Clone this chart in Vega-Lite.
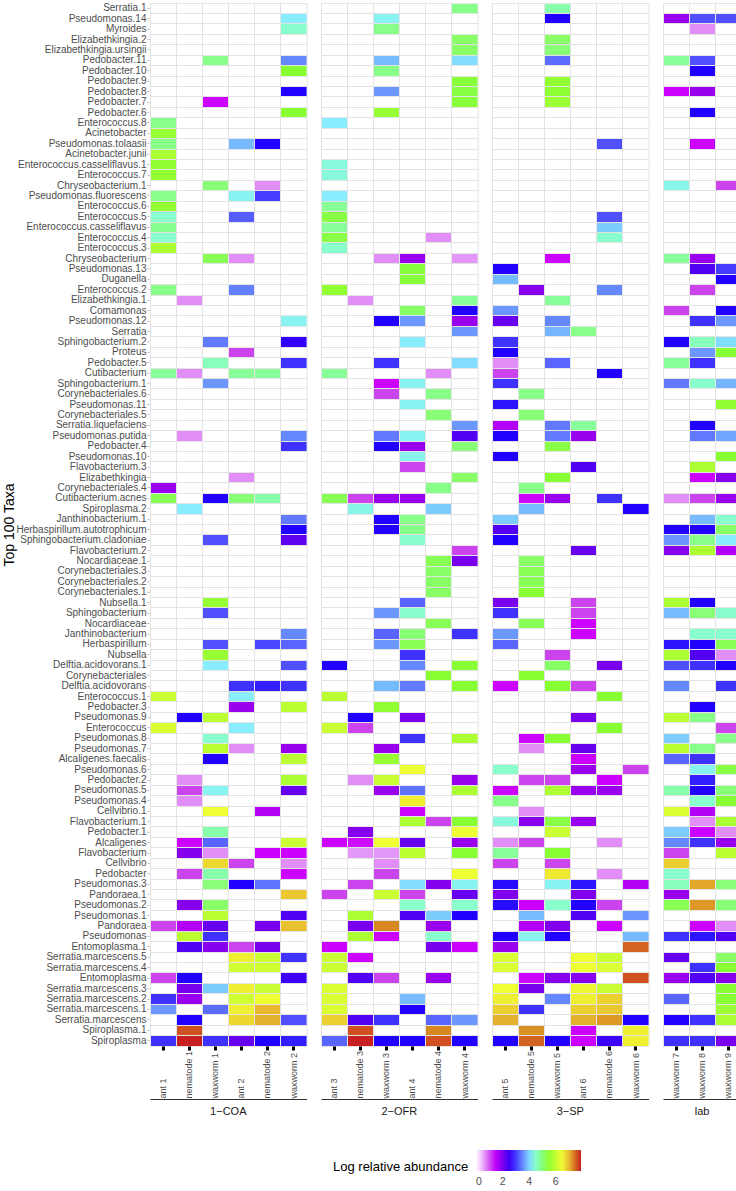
{
"$schema": "https://vega.github.io/schema/vega-lite/v6.json",
"padding": {"left": 2, "top": 2, "right": 0, "bottom": 0},
"background": "white",
"datasets": {
"samples": [
{"s":"ant 1","g":"1−COA"},{"s":"nematode 1","g":"1−COA"},{"s":"waxworm 1","g":"1−COA"},{"s":"ant 2","g":"1−COA"},{"s":"nematode 2","g":"1−COA"},{"s":"waxworm 2","g":"1−COA"},
{"s":"ant 3","g":"2−OFR"},{"s":"nematode 3","g":"2−OFR"},{"s":"waxworm 3","g":"2−OFR"},{"s":"ant 4","g":"2−OFR"},{"s":"nematode 4","g":"2−OFR"},{"s":"waxworm 4","g":"2−OFR"},
{"s":"ant 5","g":"3−SP"},{"s":"nematode 5","g":"3−SP"},{"s":"waxworm 5","g":"3−SP"},{"s":"ant 6","g":"3−SP"},{"s":"nematode 6","g":"3−SP"},{"s":"waxworm 6","g":"3−SP"},
{"s":"waxworm 7","g":"lab"},{"s":"waxworm 8","g":"lab"},{"s":"waxworm 9","g":"lab"}
]
},
"data": {"values": [
{"t":"Serratia.1","s":"waxworm 4","v":4.9},{"t":"Serratia.1","s":"waxworm 5","v":4.7},
{"t":"Pseudomonas.14","s":"waxworm 2","v":4.15},{"t":"Pseudomonas.14","s":"waxworm 3","v":4.25},{"t":"Pseudomonas.14","s":"waxworm 5","v":2.7},{"t":"Pseudomonas.14","s":"waxworm 7","v":1.8},{"t":"Pseudomonas.14","s":"waxworm 8","v":3.1},{"t":"Pseudomonas.14","s":"waxworm 9","v":3.1},
{"t":"Myroides","s":"waxworm 2","v":4.5},{"t":"Myroides","s":"waxworm 3","v":4.9},{"t":"Myroides","s":"waxworm 8","v":0.7},
{"t":"Elizabethkingia.2","s":"waxworm 4","v":5.1},{"t":"Elizabethkingia.2","s":"waxworm 5","v":5.1},
{"t":"Elizabethkingia.ursingii","s":"waxworm 4","v":5.1},{"t":"Elizabethkingia.ursingii","s":"waxworm 5","v":5.0},
{"t":"Pedobacter.11","s":"waxworm 1","v":4.9},{"t":"Pedobacter.11","s":"waxworm 2","v":3.5},{"t":"Pedobacter.11","s":"waxworm 3","v":3.85},{"t":"Pedobacter.11","s":"waxworm 4","v":4.05},{"t":"Pedobacter.11","s":"waxworm 5","v":3.3},{"t":"Pedobacter.11","s":"waxworm 7","v":4.8},{"t":"Pedobacter.11","s":"waxworm 8","v":3.1},
{"t":"Pedobacter.10","s":"waxworm 2","v":5.4},{"t":"Pedobacter.10","s":"waxworm 3","v":4.9},{"t":"Pedobacter.10","s":"waxworm 8","v":2.7},
{"t":"Pedobacter.9","s":"waxworm 4","v":5.35},{"t":"Pedobacter.9","s":"waxworm 5","v":5.5},
{"t":"Pedobacter.8","s":"waxworm 2","v":2.7},{"t":"Pedobacter.8","s":"waxworm 3","v":3.6},{"t":"Pedobacter.8","s":"waxworm 4","v":5.3},{"t":"Pedobacter.8","s":"waxworm 5","v":5.45},{"t":"Pedobacter.8","s":"waxworm 7","v":1.4},{"t":"Pedobacter.8","s":"waxworm 8","v":1.8},
{"t":"Pedobacter.7","s":"waxworm 1","v":1.4},{"t":"Pedobacter.7","s":"waxworm 4","v":5.35},{"t":"Pedobacter.7","s":"waxworm 5","v":5.6},
{"t":"Pedobacter.6","s":"waxworm 2","v":5.4},{"t":"Pedobacter.6","s":"waxworm 3","v":5.55},{"t":"Pedobacter.6","s":"waxworm 8","v":2.7},
{"t":"Enterococcus.8","s":"ant 1","v":4.9},{"t":"Enterococcus.8","s":"ant 3","v":4.15},
{"t":"Acinetobacter","s":"ant 1","v":5.55},
{"t":"Pseudomonas.tolaasii","s":"ant 1","v":4.9},{"t":"Pseudomonas.tolaasii","s":"ant 2","v":3.85},{"t":"Pseudomonas.tolaasii","s":"nematode 2","v":2.7},{"t":"Pseudomonas.tolaasii","s":"nematode 6","v":3.1},{"t":"Pseudomonas.tolaasii","s":"waxworm 8","v":1.4},
{"t":"Acinetobacter.junii","s":"ant 1","v":5.75},
{"t":"Enterococcus.casseliflavus.1","s":"ant 1","v":5.5},{"t":"Enterococcus.casseliflavus.1","s":"ant 3","v":4.4},
{"t":"Enterococcus.7","s":"ant 1","v":5.5},{"t":"Enterococcus.7","s":"ant 3","v":4.4},
{"t":"Chryseobacterium.1","s":"waxworm 1","v":5.0},{"t":"Chryseobacterium.1","s":"nematode 2","v":0.7},{"t":"Chryseobacterium.1","s":"waxworm 7","v":4.3},{"t":"Chryseobacterium.1","s":"waxworm 9","v":1.1},
{"t":"Pseudomonas.fluorescens","s":"ant 1","v":4.9},{"t":"Pseudomonas.fluorescens","s":"ant 2","v":4.25},{"t":"Pseudomonas.fluorescens","s":"nematode 2","v":3.0},{"t":"Pseudomonas.fluorescens","s":"ant 3","v":4.15},
{"t":"Enterococcus.6","s":"ant 1","v":5.5},{"t":"Enterococcus.6","s":"ant 3","v":4.8},
{"t":"Enterococcus.5","s":"ant 1","v":4.5},{"t":"Enterococcus.5","s":"ant 2","v":3.2},{"t":"Enterococcus.5","s":"ant 3","v":5.3},{"t":"Enterococcus.5","s":"nematode 6","v":3.1},
{"t":"Enterococcus.casseliflavus","s":"ant 1","v":4.85},{"t":"Enterococcus.casseliflavus","s":"ant 3","v":4.8},{"t":"Enterococcus.casseliflavus","s":"nematode 6","v":3.95},
{"t":"Enterococcus.4","s":"ant 1","v":4.5},{"t":"Enterococcus.4","s":"ant 3","v":5.3},{"t":"Enterococcus.4","s":"nematode 4","v":0.7},{"t":"Enterococcus.4","s":"nematode 6","v":4.5},
{"t":"Enterococcus.3","s":"ant 1","v":5.75},{"t":"Enterococcus.3","s":"ant 3","v":4.5},
{"t":"Chryseobacterium","s":"waxworm 1","v":5.2},{"t":"Chryseobacterium","s":"ant 2","v":0.7},{"t":"Chryseobacterium","s":"waxworm 3","v":0.7},{"t":"Chryseobacterium","s":"ant 4","v":1.8},{"t":"Chryseobacterium","s":"waxworm 4","v":0.65},{"t":"Chryseobacterium","s":"waxworm 5","v":1.4},{"t":"Chryseobacterium","s":"waxworm 7","v":4.8},{"t":"Chryseobacterium","s":"waxworm 8","v":1.8},
{"t":"Pseudomonas.13","s":"ant 4","v":5.35},{"t":"Pseudomonas.13","s":"ant 5","v":2.7},{"t":"Pseudomonas.13","s":"waxworm 8","v":2.35},{"t":"Pseudomonas.13","s":"waxworm 9","v":3.0},
{"t":"Duganella","s":"ant 4","v":5.35},{"t":"Duganella","s":"ant 5","v":3.85},{"t":"Duganella","s":"waxworm 9","v":2.7},
{"t":"Enterococcus.2","s":"ant 1","v":4.9},{"t":"Enterococcus.2","s":"ant 2","v":3.45},{"t":"Enterococcus.2","s":"ant 3","v":5.5},{"t":"Enterococcus.2","s":"nematode 5","v":1.95},{"t":"Enterococcus.2","s":"nematode 6","v":3.5},{"t":"Enterococcus.2","s":"waxworm 8","v":1.1},
{"t":"Elizabethkingia.1","s":"nematode 1","v":0.7},{"t":"Elizabethkingia.1","s":"nematode 3","v":0.7},{"t":"Elizabethkingia.1","s":"waxworm 4","v":4.8},{"t":"Elizabethkingia.1","s":"waxworm 5","v":4.8},
{"t":"Comamonas","s":"ant 4","v":5.1},{"t":"Comamonas","s":"waxworm 4","v":2.7},{"t":"Comamonas","s":"ant 5","v":3.6},{"t":"Comamonas","s":"waxworm 7","v":1.1},{"t":"Comamonas","s":"waxworm 9","v":2.7},
{"t":"Pseudomonas.12","s":"waxworm 2","v":4.25},{"t":"Pseudomonas.12","s":"waxworm 3","v":2.7},{"t":"Pseudomonas.12","s":"ant 4","v":3.6},{"t":"Pseudomonas.12","s":"waxworm 4","v":1.8},{"t":"Pseudomonas.12","s":"ant 5","v":2.2},{"t":"Pseudomonas.12","s":"waxworm 5","v":3.5},{"t":"Pseudomonas.12","s":"waxworm 8","v":2.95},{"t":"Pseudomonas.12","s":"waxworm 9","v":3.6},
{"t":"Serratia","s":"waxworm 4","v":3.6},{"t":"Serratia","s":"waxworm 5","v":3.8},{"t":"Serratia","s":"ant 6","v":4.9},
{"t":"Sphingobacterium.2","s":"waxworm 1","v":3.4},{"t":"Sphingobacterium.2","s":"waxworm 2","v":2.6},{"t":"Sphingobacterium.2","s":"ant 4","v":4.15},{"t":"Sphingobacterium.2","s":"ant 5","v":2.95},{"t":"Sphingobacterium.2","s":"waxworm 7","v":2.7},{"t":"Sphingobacterium.2","s":"waxworm 8","v":4.6},{"t":"Sphingobacterium.2","s":"waxworm 9","v":4.05},
{"t":"Proteus","s":"ant 2","v":1.1},{"t":"Proteus","s":"ant 5","v":2.7},{"t":"Proteus","s":"waxworm 8","v":3.6},{"t":"Proteus","s":"waxworm 9","v":5.4},
{"t":"Pedobacter.5","s":"waxworm 1","v":4.6},{"t":"Pedobacter.5","s":"waxworm 2","v":2.95},{"t":"Pedobacter.5","s":"waxworm 3","v":2.95},{"t":"Pedobacter.5","s":"waxworm 4","v":4.05},{"t":"Pedobacter.5","s":"ant 5","v":0.7},{"t":"Pedobacter.5","s":"waxworm 5","v":3.25},{"t":"Pedobacter.5","s":"waxworm 7","v":4.8},{"t":"Pedobacter.5","s":"waxworm 8","v":2.95},
{"t":"Cutibacterium","s":"ant 1","v":4.8},{"t":"Cutibacterium","s":"nematode 1","v":0.7},{"t":"Cutibacterium","s":"ant 2","v":4.8},{"t":"Cutibacterium","s":"nematode 2","v":4.8},{"t":"Cutibacterium","s":"ant 3","v":4.8},{"t":"Cutibacterium","s":"nematode 4","v":0.7},{"t":"Cutibacterium","s":"ant 5","v":1.1},{"t":"Cutibacterium","s":"nematode 6","v":2.7},
{"t":"Sphingobacterium.1","s":"waxworm 1","v":3.6},{"t":"Sphingobacterium.1","s":"waxworm 3","v":1.4},{"t":"Sphingobacterium.1","s":"ant 4","v":4.25},{"t":"Sphingobacterium.1","s":"ant 5","v":2.95},{"t":"Sphingobacterium.1","s":"waxworm 7","v":3.4},{"t":"Sphingobacterium.1","s":"waxworm 8","v":4.5},{"t":"Sphingobacterium.1","s":"waxworm 9","v":3.8},
{"t":"Corynebacteriales.6","s":"waxworm 3","v":1.1},{"t":"Corynebacteriales.6","s":"nematode 4","v":4.9},{"t":"Corynebacteriales.6","s":"nematode 5","v":4.9},
{"t":"Pseudomonas.11","s":"ant 4","v":4.25},{"t":"Pseudomonas.11","s":"ant 5","v":2.8},{"t":"Pseudomonas.11","s":"waxworm 9","v":5.5},
{"t":"Corynebacteriales.5","s":"nematode 4","v":5.0},{"t":"Corynebacteriales.5","s":"nematode 5","v":5.0},
{"t":"Serratia.liquefaciens","s":"waxworm 4","v":3.6},{"t":"Serratia.liquefaciens","s":"ant 5","v":1.6},{"t":"Serratia.liquefaciens","s":"waxworm 5","v":3.4},{"t":"Serratia.liquefaciens","s":"ant 6","v":4.8},{"t":"Serratia.liquefaciens","s":"waxworm 8","v":2.7},
{"t":"Pseudomonas.putida","s":"nematode 1","v":0.7},{"t":"Pseudomonas.putida","s":"waxworm 2","v":3.5},{"t":"Pseudomonas.putida","s":"waxworm 3","v":3.4},{"t":"Pseudomonas.putida","s":"ant 4","v":4.25},{"t":"Pseudomonas.putida","s":"waxworm 4","v":2.35},{"t":"Pseudomonas.putida","s":"ant 5","v":2.7},{"t":"Pseudomonas.putida","s":"waxworm 5","v":3.4},{"t":"Pseudomonas.putida","s":"ant 6","v":1.8},{"t":"Pseudomonas.putida","s":"waxworm 8","v":3.4},{"t":"Pseudomonas.putida","s":"waxworm 9","v":3.7},
{"t":"Pedobacter.4","s":"waxworm 2","v":2.95},{"t":"Pedobacter.4","s":"waxworm 3","v":2.7},{"t":"Pedobacter.4","s":"ant 4","v":1.8},{"t":"Pedobacter.4","s":"waxworm 4","v":5.0},{"t":"Pedobacter.4","s":"waxworm 5","v":5.3},
{"t":"Pseudomonas.10","s":"ant 4","v":4.25},{"t":"Pseudomonas.10","s":"ant 5","v":2.7},{"t":"Pseudomonas.10","s":"waxworm 9","v":5.4},
{"t":"Flavobacterium.3","s":"ant 4","v":1.1},{"t":"Flavobacterium.3","s":"ant 6","v":2.35},{"t":"Flavobacterium.3","s":"waxworm 8","v":5.75},
{"t":"Elizabethkingia","s":"ant 2","v":0.7},{"t":"Elizabethkingia","s":"waxworm 4","v":5.1},{"t":"Elizabethkingia","s":"waxworm 5","v":5.4},{"t":"Elizabethkingia","s":"waxworm 8","v":1.4},{"t":"Elizabethkingia","s":"waxworm 9","v":1.95},
{"t":"Corynebacteriales.4","s":"ant 1","v":1.8},{"t":"Corynebacteriales.4","s":"nematode 4","v":4.9},{"t":"Corynebacteriales.4","s":"nematode 5","v":4.9},
{"t":"Cutibacterium.acnes","s":"ant 1","v":5.2},{"t":"Cutibacterium.acnes","s":"waxworm 1","v":2.7},{"t":"Cutibacterium.acnes","s":"ant 2","v":5.0},{"t":"Cutibacterium.acnes","s":"nematode 2","v":4.7},{"t":"Cutibacterium.acnes","s":"ant 3","v":5.2},{"t":"Cutibacterium.acnes","s":"nematode 3","v":1.1},{"t":"Cutibacterium.acnes","s":"waxworm 3","v":1.8},{"t":"Cutibacterium.acnes","s":"ant 4","v":1.8},{"t":"Cutibacterium.acnes","s":"nematode 5","v":1.4},{"t":"Cutibacterium.acnes","s":"waxworm 5","v":1.8},{"t":"Cutibacterium.acnes","s":"nematode 6","v":2.95},{"t":"Cutibacterium.acnes","s":"waxworm 7","v":0.7},{"t":"Cutibacterium.acnes","s":"waxworm 8","v":1.1},{"t":"Cutibacterium.acnes","s":"waxworm 9","v":1.8},
{"t":"Spiroplasma.2","s":"nematode 1","v":4.15},{"t":"Spiroplasma.2","s":"nematode 3","v":4.3},{"t":"Spiroplasma.2","s":"nematode 4","v":3.95},{"t":"Spiroplasma.2","s":"nematode 5","v":3.85},{"t":"Spiroplasma.2","s":"waxworm 6","v":2.7},
{"t":"Janthinobacterium.1","s":"waxworm 2","v":3.4},{"t":"Janthinobacterium.1","s":"waxworm 3","v":2.7},{"t":"Janthinobacterium.1","s":"ant 4","v":4.9},{"t":"Janthinobacterium.1","s":"ant 5","v":3.95},{"t":"Janthinobacterium.1","s":"waxworm 8","v":3.85},{"t":"Janthinobacterium.1","s":"waxworm 9","v":4.5},
{"t":"Herbaspirillum.autotrophicum","s":"waxworm 2","v":2.7},{"t":"Herbaspirillum.autotrophicum","s":"waxworm 3","v":2.7},{"t":"Herbaspirillum.autotrophicum","s":"ant 4","v":4.9},{"t":"Herbaspirillum.autotrophicum","s":"ant 5","v":2.35},{"t":"Herbaspirillum.autotrophicum","s":"waxworm 7","v":2.7},{"t":"Herbaspirillum.autotrophicum","s":"waxworm 8","v":2.7},{"t":"Herbaspirillum.autotrophicum","s":"waxworm 9","v":5.1},
{"t":"Sphingobacterium.cladoniae","s":"waxworm 1","v":3.1},{"t":"Sphingobacterium.cladoniae","s":"waxworm 2","v":2.25},{"t":"Sphingobacterium.cladoniae","s":"ant 4","v":4.5},{"t":"Sphingobacterium.cladoniae","s":"ant 5","v":2.7},{"t":"Sphingobacterium.cladoniae","s":"waxworm 7","v":3.6},{"t":"Sphingobacterium.cladoniae","s":"waxworm 8","v":4.9},{"t":"Sphingobacterium.cladoniae","s":"waxworm 9","v":4.15},
{"t":"Flavobacterium.2","s":"waxworm 4","v":1.1},{"t":"Flavobacterium.2","s":"ant 6","v":2.2},{"t":"Flavobacterium.2","s":"waxworm 7","v":1.95},{"t":"Flavobacterium.2","s":"waxworm 8","v":5.75},{"t":"Flavobacterium.2","s":"waxworm 9","v":1.6},
{"t":"Nocardiaceae.1","s":"nematode 4","v":5.2},{"t":"Nocardiaceae.1","s":"waxworm 4","v":2.05},{"t":"Nocardiaceae.1","s":"nematode 5","v":5.1},
{"t":"Corynebacteriales.3","s":"nematode 4","v":5.1},{"t":"Corynebacteriales.3","s":"nematode 5","v":5.2},
{"t":"Corynebacteriales.2","s":"nematode 4","v":5.1},{"t":"Corynebacteriales.2","s":"nematode 5","v":5.2},
{"t":"Corynebacteriales.1","s":"nematode 4","v":5.1},{"t":"Corynebacteriales.1","s":"nematode 5","v":5.4},
{"t":"Nubsella.1","s":"waxworm 1","v":5.55},{"t":"Nubsella.1","s":"ant 4","v":3.25},{"t":"Nubsella.1","s":"ant 5","v":2.05},{"t":"Nubsella.1","s":"ant 6","v":1.1},{"t":"Nubsella.1","s":"waxworm 7","v":5.75},{"t":"Nubsella.1","s":"waxworm 8","v":2.7},
{"t":"Sphingobacterium","s":"waxworm 1","v":3.1},{"t":"Sphingobacterium","s":"waxworm 3","v":3.6},{"t":"Sphingobacterium","s":"ant 4","v":4.5},{"t":"Sphingobacterium","s":"ant 5","v":2.95},{"t":"Sphingobacterium","s":"ant 6","v":1.1},{"t":"Sphingobacterium","s":"waxworm 7","v":3.85},{"t":"Sphingobacterium","s":"waxworm 8","v":5.0},{"t":"Sphingobacterium","s":"waxworm 9","v":4.5},
{"t":"Nocardiaceae","s":"nematode 4","v":5.2},{"t":"Nocardiaceae","s":"nematode 5","v":5.2},{"t":"Nocardiaceae","s":"ant 6","v":1.4},
{"t":"Janthinobacterium","s":"waxworm 2","v":3.5},{"t":"Janthinobacterium","s":"waxworm 3","v":3.25},{"t":"Janthinobacterium","s":"ant 4","v":5.0},{"t":"Janthinobacterium","s":"waxworm 4","v":2.95},{"t":"Janthinobacterium","s":"ant 5","v":3.6},{"t":"Janthinobacterium","s":"ant 6","v":1.4},{"t":"Janthinobacterium","s":"waxworm 8","v":4.5},{"t":"Janthinobacterium","s":"waxworm 9","v":4.5},
{"t":"Herbaspirillum","s":"waxworm 1","v":3.1},{"t":"Herbaspirillum","s":"nematode 2","v":3.05},{"t":"Herbaspirillum","s":"waxworm 2","v":3.25},{"t":"Herbaspirillum","s":"waxworm 3","v":3.6},{"t":"Herbaspirillum","s":"ant 4","v":5.2},{"t":"Herbaspirillum","s":"ant 5","v":3.25},{"t":"Herbaspirillum","s":"waxworm 7","v":2.8},{"t":"Herbaspirillum","s":"waxworm 8","v":2.7},{"t":"Herbaspirillum","s":"waxworm 9","v":5.2},
{"t":"Nubsella","s":"waxworm 1","v":5.55},{"t":"Nubsella","s":"ant 4","v":2.95},{"t":"Nubsella","s":"waxworm 5","v":1.1},{"t":"Nubsella","s":"waxworm 7","v":5.75},{"t":"Nubsella","s":"waxworm 8","v":2.35},{"t":"Nubsella","s":"waxworm 9","v":0.7},
{"t":"Delftia.acidovorans.1","s":"waxworm 1","v":4.15},{"t":"Delftia.acidovorans.1","s":"waxworm 2","v":3.1},{"t":"Delftia.acidovorans.1","s":"ant 3","v":2.7},{"t":"Delftia.acidovorans.1","s":"ant 4","v":3.5},{"t":"Delftia.acidovorans.1","s":"waxworm 4","v":5.4},{"t":"Delftia.acidovorans.1","s":"waxworm 5","v":5.1},{"t":"Delftia.acidovorans.1","s":"nematode 6","v":2.05},{"t":"Delftia.acidovorans.1","s":"waxworm 7","v":3.1},{"t":"Delftia.acidovorans.1","s":"waxworm 8","v":2.95},{"t":"Delftia.acidovorans.1","s":"waxworm 9","v":2.7},
{"t":"Corynebacteriales","s":"nematode 4","v":5.4},{"t":"Corynebacteriales","s":"nematode 5","v":5.4},
{"t":"Delftia.acidovorans","s":"ant 2","v":2.95},{"t":"Delftia.acidovorans","s":"nematode 2","v":2.85},{"t":"Delftia.acidovorans","s":"waxworm 2","v":2.95},{"t":"Delftia.acidovorans","s":"waxworm 3","v":3.85},{"t":"Delftia.acidovorans","s":"ant 4","v":3.4},{"t":"Delftia.acidovorans","s":"waxworm 4","v":5.4},{"t":"Delftia.acidovorans","s":"ant 5","v":1.4},{"t":"Delftia.acidovorans","s":"waxworm 5","v":5.4},{"t":"Delftia.acidovorans","s":"ant 6","v":1.1},{"t":"Delftia.acidovorans","s":"waxworm 7","v":3.5},{"t":"Delftia.acidovorans","s":"waxworm 9","v":2.95},
{"t":"Enterococcus.1","s":"ant 1","v":6.05},{"t":"Enterococcus.1","s":"ant 2","v":4.15},{"t":"Enterococcus.1","s":"ant 3","v":5.9},{"t":"Enterococcus.1","s":"nematode 6","v":5.4},
{"t":"Pedobacter.3","s":"ant 2","v":1.8},{"t":"Pedobacter.3","s":"waxworm 2","v":5.9},{"t":"Pedobacter.3","s":"waxworm 3","v":5.5},{"t":"Pedobacter.3","s":"waxworm 8","v":2.7},
{"t":"Pseudomonas.9","s":"nematode 1","v":2.7},{"t":"Pseudomonas.9","s":"waxworm 1","v":5.9},{"t":"Pseudomonas.9","s":"nematode 3","v":2.7},{"t":"Pseudomonas.9","s":"ant 4","v":2.05},{"t":"Pseudomonas.9","s":"ant 6","v":2.05},{"t":"Pseudomonas.9","s":"waxworm 7","v":5.9},{"t":"Pseudomonas.9","s":"waxworm 8","v":4.9},
{"t":"Enterococcus","s":"ant 1","v":6.2},{"t":"Enterococcus","s":"ant 2","v":4.15},{"t":"Enterococcus","s":"ant 3","v":6.05},{"t":"Enterococcus","s":"nematode 3","v":1.1},{"t":"Enterococcus","s":"nematode 6","v":5.4},{"t":"Enterococcus","s":"waxworm 9","v":1.1},
{"t":"Pseudomonas.8","s":"waxworm 1","v":4.5},{"t":"Pseudomonas.8","s":"ant 4","v":2.95},{"t":"Pseudomonas.8","s":"waxworm 4","v":5.75},{"t":"Pseudomonas.8","s":"nematode 5","v":1.4},{"t":"Pseudomonas.8","s":"waxworm 5","v":5.4},{"t":"Pseudomonas.8","s":"waxworm 7","v":3.95},{"t":"Pseudomonas.8","s":"waxworm 9","v":4.9},
{"t":"Pseudomonas.7","s":"waxworm 1","v":5.9},{"t":"Pseudomonas.7","s":"ant 2","v":0.7},{"t":"Pseudomonas.7","s":"waxworm 2","v":1.8},{"t":"Pseudomonas.7","s":"waxworm 3","v":1.8},{"t":"Pseudomonas.7","s":"nematode 5","v":0.7},{"t":"Pseudomonas.7","s":"ant 6","v":2.2},{"t":"Pseudomonas.7","s":"waxworm 7","v":5.9},{"t":"Pseudomonas.7","s":"waxworm 8","v":4.9},
{"t":"Alcaligenes.faecalis","s":"waxworm 1","v":2.7},{"t":"Alcaligenes.faecalis","s":"waxworm 2","v":5.9},{"t":"Alcaligenes.faecalis","s":"waxworm 3","v":5.55},{"t":"Alcaligenes.faecalis","s":"ant 6","v":1.4},{"t":"Alcaligenes.faecalis","s":"waxworm 7","v":3.25},{"t":"Alcaligenes.faecalis","s":"waxworm 8","v":2.95},
{"t":"Pseudomonas.6","s":"ant 4","v":6.4},{"t":"Pseudomonas.6","s":"ant 5","v":4.5},{"t":"Pseudomonas.6","s":"ant 6","v":1.8},{"t":"Pseudomonas.6","s":"waxworm 6","v":1.1},{"t":"Pseudomonas.6","s":"waxworm 8","v":4.25},{"t":"Pseudomonas.6","s":"waxworm 9","v":5.3},
{"t":"Pedobacter.2","s":"nematode 1","v":0.7},{"t":"Pedobacter.2","s":"waxworm 2","v":5.75},{"t":"Pedobacter.2","s":"nematode 3","v":0.7},{"t":"Pedobacter.2","s":"waxworm 3","v":6.05},{"t":"Pedobacter.2","s":"waxworm 4","v":1.8},{"t":"Pedobacter.2","s":"nematode 5","v":1.1},{"t":"Pedobacter.2","s":"waxworm 5","v":1.1},{"t":"Pedobacter.2","s":"nematode 6","v":1.4},{"t":"Pedobacter.2","s":"waxworm 8","v":2.85},
{"t":"Pseudomonas.5","s":"nematode 1","v":1.1},{"t":"Pseudomonas.5","s":"waxworm 1","v":4.25},{"t":"Pseudomonas.5","s":"waxworm 2","v":2.2},{"t":"Pseudomonas.5","s":"waxworm 3","v":1.8},{"t":"Pseudomonas.5","s":"ant 4","v":3.35},{"t":"Pseudomonas.5","s":"waxworm 4","v":5.75},{"t":"Pseudomonas.5","s":"ant 5","v":1.4},{"t":"Pseudomonas.5","s":"waxworm 5","v":5.75},{"t":"Pseudomonas.5","s":"ant 6","v":1.8},{"t":"Pseudomonas.5","s":"nematode 6","v":1.8},{"t":"Pseudomonas.5","s":"waxworm 7","v":4.7},{"t":"Pseudomonas.5","s":"waxworm 8","v":2.7},{"t":"Pseudomonas.5","s":"waxworm 9","v":5.0},
{"t":"Pseudomonas.4","s":"nematode 1","v":0.7},{"t":"Pseudomonas.4","s":"ant 4","v":6.6},{"t":"Pseudomonas.4","s":"ant 5","v":4.9},{"t":"Pseudomonas.4","s":"waxworm 8","v":4.5},{"t":"Pseudomonas.4","s":"waxworm 9","v":5.4},
{"t":"Cellvibrio.1","s":"waxworm 1","v":6.4},{"t":"Cellvibrio.1","s":"nematode 2","v":1.6},{"t":"Cellvibrio.1","s":"ant 4","v":1.4},{"t":"Cellvibrio.1","s":"nematode 5","v":0.7},{"t":"Cellvibrio.1","s":"waxworm 7","v":6.2},{"t":"Cellvibrio.1","s":"waxworm 8","v":1.6},
{"t":"Flavobacterium.1","s":"ant 4","v":5.75},{"t":"Flavobacterium.1","s":"nematode 4","v":1.1},{"t":"Flavobacterium.1","s":"waxworm 4","v":5.4},{"t":"Flavobacterium.1","s":"ant 5","v":4.4},{"t":"Flavobacterium.1","s":"nematode 5","v":1.95},{"t":"Flavobacterium.1","s":"waxworm 5","v":5.3},{"t":"Flavobacterium.1","s":"ant 6","v":1.8},{"t":"Flavobacterium.1","s":"waxworm 8","v":0.7},{"t":"Flavobacterium.1","s":"waxworm 9","v":5.75},
{"t":"Pedobacter.1","s":"waxworm 1","v":4.7},{"t":"Pedobacter.1","s":"nematode 3","v":1.95},{"t":"Pedobacter.1","s":"waxworm 4","v":6.4},{"t":"Pedobacter.1","s":"waxworm 5","v":6.05},{"t":"Pedobacter.1","s":"waxworm 7","v":3.95},{"t":"Pedobacter.1","s":"waxworm 8","v":1.4},{"t":"Pedobacter.1","s":"waxworm 9","v":0.7},
{"t":"Alcaligenes","s":"nematode 1","v":1.4},{"t":"Alcaligenes","s":"waxworm 1","v":3.25},{"t":"Alcaligenes","s":"waxworm 2","v":6.05},{"t":"Alcaligenes","s":"ant 3","v":1.4},{"t":"Alcaligenes","s":"nematode 3","v":1.35},{"t":"Alcaligenes","s":"waxworm 3","v":6.4},{"t":"Alcaligenes","s":"ant 4","v":2.2},{"t":"Alcaligenes","s":"waxworm 4","v":1.8},{"t":"Alcaligenes","s":"ant 5","v":0.7},{"t":"Alcaligenes","s":"nematode 5","v":1.1},{"t":"Alcaligenes","s":"nematode 6","v":0.7},{"t":"Alcaligenes","s":"waxworm 7","v":3.5},{"t":"Alcaligenes","s":"waxworm 8","v":2.95},{"t":"Alcaligenes","s":"waxworm 9","v":1.8},
{"t":"Flavobacterium","s":"nematode 1","v":1.95},{"t":"Flavobacterium","s":"waxworm 1","v":0.7},{"t":"Flavobacterium","s":"nematode 2","v":1.4},{"t":"Flavobacterium","s":"waxworm 2","v":1.4},{"t":"Flavobacterium","s":"nematode 3","v":0.65},{"t":"Flavobacterium","s":"waxworm 3","v":0.65},{"t":"Flavobacterium","s":"ant 4","v":5.9},{"t":"Flavobacterium","s":"waxworm 4","v":5.4},{"t":"Flavobacterium","s":"ant 5","v":4.8},{"t":"Flavobacterium","s":"waxworm 5","v":5.4},{"t":"Flavobacterium","s":"waxworm 7","v":1.1},{"t":"Flavobacterium","s":"waxworm 9","v":5.9},
{"t":"Cellvibrio","s":"waxworm 1","v":6.8},{"t":"Cellvibrio","s":"ant 2","v":1.1},{"t":"Cellvibrio","s":"waxworm 2","v":0.7},{"t":"Cellvibrio","s":"waxworm 3","v":0.7},{"t":"Cellvibrio","s":"ant 5","v":1.1},{"t":"Cellvibrio","s":"waxworm 5","v":1.1},{"t":"Cellvibrio","s":"waxworm 7","v":6.85},
{"t":"Pedobacter","s":"nematode 1","v":1.1},{"t":"Pedobacter","s":"waxworm 1","v":4.7},{"t":"Pedobacter","s":"waxworm 2","v":1.4},{"t":"Pedobacter","s":"waxworm 3","v":1.1},{"t":"Pedobacter","s":"waxworm 4","v":6.4},{"t":"Pedobacter","s":"waxworm 5","v":6.7},{"t":"Pedobacter","s":"nematode 6","v":0.7},{"t":"Pedobacter","s":"waxworm 7","v":4.5},
{"t":"Pseudomonas.3","s":"waxworm 1","v":5.0},{"t":"Pseudomonas.3","s":"ant 2","v":2.7},{"t":"Pseudomonas.3","s":"nematode 2","v":3.35},{"t":"Pseudomonas.3","s":"nematode 3","v":1.1},{"t":"Pseudomonas.3","s":"ant 4","v":4.05},{"t":"Pseudomonas.3","s":"nematode 4","v":1.95},{"t":"Pseudomonas.3","s":"waxworm 4","v":4.25},{"t":"Pseudomonas.3","s":"ant 5","v":2.75},{"t":"Pseudomonas.3","s":"waxworm 5","v":4.25},{"t":"Pseudomonas.3","s":"ant 6","v":2.8},{"t":"Pseudomonas.3","s":"waxworm 6","v":1.6},{"t":"Pseudomonas.3","s":"waxworm 7","v":4.6},{"t":"Pseudomonas.3","s":"waxworm 8","v":7.1},{"t":"Pseudomonas.3","s":"waxworm 9","v":5.0},
{"t":"Pandoraea.1","s":"waxworm 2","v":6.9},{"t":"Pandoraea.1","s":"ant 3","v":1.1},{"t":"Pandoraea.1","s":"waxworm 3","v":6.05},{"t":"Pandoraea.1","s":"ant 4","v":1.1},{"t":"Pandoraea.1","s":"waxworm 4","v":2.2},{"t":"Pandoraea.1","s":"ant 5","v":2.0},{"t":"Pandoraea.1","s":"ant 6","v":2.0},{"t":"Pandoraea.1","s":"waxworm 7","v":1.8},
{"t":"Pseudomonas.2","s":"nematode 1","v":1.95},{"t":"Pseudomonas.2","s":"waxworm 1","v":5.1},{"t":"Pseudomonas.2","s":"ant 4","v":4.5},{"t":"Pseudomonas.2","s":"waxworm 4","v":4.5},{"t":"Pseudomonas.2","s":"ant 5","v":2.75},{"t":"Pseudomonas.2","s":"nematode 5","v":1.4},{"t":"Pseudomonas.2","s":"waxworm 5","v":4.5},{"t":"Pseudomonas.2","s":"ant 6","v":2.7},{"t":"Pseudomonas.2","s":"nematode 6","v":1.1},{"t":"Pseudomonas.2","s":"waxworm 7","v":5.2},{"t":"Pseudomonas.2","s":"waxworm 8","v":7.2},{"t":"Pseudomonas.2","s":"waxworm 9","v":5.0},
{"t":"Pseudomonas.1","s":"waxworm 1","v":5.9},{"t":"Pseudomonas.1","s":"waxworm 2","v":2.35},{"t":"Pseudomonas.1","s":"nematode 3","v":5.75},{"t":"Pseudomonas.1","s":"ant 4","v":2.35},{"t":"Pseudomonas.1","s":"nematode 4","v":3.95},{"t":"Pseudomonas.1","s":"waxworm 4","v":2.7},{"t":"Pseudomonas.1","s":"nematode 5","v":3.85},{"t":"Pseudomonas.1","s":"ant 6","v":2.35},{"t":"Pseudomonas.1","s":"waxworm 6","v":3.6},
{"t":"Pandoraea","s":"ant 1","v":1.1},{"t":"Pandoraea","s":"nematode 1","v":1.6},{"t":"Pandoraea","s":"waxworm 1","v":2.2},{"t":"Pandoraea","s":"nematode 2","v":2.05},{"t":"Pandoraea","s":"waxworm 2","v":6.95},{"t":"Pandoraea","s":"nematode 3","v":2.05},{"t":"Pandoraea","s":"waxworm 3","v":7.3},{"t":"Pandoraea","s":"nematode 4","v":1.8},{"t":"Pandoraea","s":"nematode 5","v":1.6},{"t":"Pandoraea","s":"waxworm 5","v":2.0},{"t":"Pandoraea","s":"nematode 6","v":1.4},{"t":"Pandoraea","s":"waxworm 8","v":1.4},{"t":"Pandoraea","s":"waxworm 9","v":0.7},
{"t":"Pseudomonas","s":"nematode 1","v":5.9},{"t":"Pseudomonas","s":"waxworm 1","v":2.95},{"t":"Pseudomonas","s":"nematode 3","v":5.75},{"t":"Pseudomonas","s":"waxworm 3","v":1.4},{"t":"Pseudomonas","s":"nematode 4","v":4.5},{"t":"Pseudomonas","s":"ant 5","v":2.7},{"t":"Pseudomonas","s":"nematode 5","v":4.25},{"t":"Pseudomonas","s":"waxworm 5","v":2.7},{"t":"Pseudomonas","s":"waxworm 6","v":3.85},{"t":"Pseudomonas","s":"waxworm 7","v":2.95},{"t":"Pseudomonas","s":"waxworm 8","v":2.8},{"t":"Pseudomonas","s":"waxworm 9","v":2.35},
{"t":"Entomoplasma.1","s":"nematode 1","v":2.35},{"t":"Entomoplasma.1","s":"waxworm 1","v":1.95},{"t":"Entomoplasma.1","s":"ant 2","v":1.1},{"t":"Entomoplasma.1","s":"nematode 2","v":2.05},{"t":"Entomoplasma.1","s":"ant 3","v":1.4},{"t":"Entomoplasma.1","s":"nematode 4","v":2.05},{"t":"Entomoplasma.1","s":"waxworm 4","v":1.4},{"t":"Entomoplasma.1","s":"ant 5","v":1.8},{"t":"Entomoplasma.1","s":"waxworm 6","v":7.5},
{"t":"Serratia.marcescens.5","s":"ant 2","v":6.6},{"t":"Serratia.marcescens.5","s":"nematode 2","v":6.05},{"t":"Serratia.marcescens.5","s":"waxworm 2","v":2.95},{"t":"Serratia.marcescens.5","s":"ant 3","v":6.05},{"t":"Serratia.marcescens.5","s":"nematode 3","v":1.4},{"t":"Serratia.marcescens.5","s":"ant 5","v":6.2},{"t":"Serratia.marcescens.5","s":"ant 6","v":6.4},{"t":"Serratia.marcescens.5","s":"nematode 6","v":6.05},{"t":"Serratia.marcescens.5","s":"waxworm 7","v":2.2},{"t":"Serratia.marcescens.5","s":"waxworm 9","v":5.1},
{"t":"Serratia.marcescens.4","s":"ant 2","v":6.1},{"t":"Serratia.marcescens.4","s":"nematode 2","v":6.1},{"t":"Serratia.marcescens.4","s":"ant 3","v":6.05},{"t":"Serratia.marcescens.4","s":"ant 5","v":6.2},{"t":"Serratia.marcescens.4","s":"ant 6","v":6.4},{"t":"Serratia.marcescens.4","s":"nematode 6","v":6.2},{"t":"Serratia.marcescens.4","s":"waxworm 8","v":2.95},{"t":"Serratia.marcescens.4","s":"waxworm 9","v":5.4},
{"t":"Entomoplasma","s":"ant 1","v":1.1},{"t":"Entomoplasma","s":"nematode 1","v":2.7},{"t":"Entomoplasma","s":"waxworm 2","v":2.5},{"t":"Entomoplasma","s":"nematode 3","v":2.35},{"t":"Entomoplasma","s":"waxworm 3","v":1.1},{"t":"Entomoplasma","s":"nematode 4","v":1.8},{"t":"Entomoplasma","s":"nematode 5","v":1.4},{"t":"Entomoplasma","s":"waxworm 5","v":1.95},{"t":"Entomoplasma","s":"ant 6","v":1.95},{"t":"Entomoplasma","s":"waxworm 6","v":7.6},{"t":"Entomoplasma","s":"waxworm 7","v":1.8},{"t":"Entomoplasma","s":"waxworm 8","v":2.35},{"t":"Entomoplasma","s":"waxworm 9","v":1.95},
{"t":"Serratia.marcescens.3","s":"nematode 1","v":2.05},{"t":"Serratia.marcescens.3","s":"waxworm 1","v":3.95},{"t":"Serratia.marcescens.3","s":"ant 2","v":6.6},{"t":"Serratia.marcescens.3","s":"nematode 2","v":6.05},{"t":"Serratia.marcescens.3","s":"ant 3","v":6.2},{"t":"Serratia.marcescens.3","s":"ant 5","v":6.4},{"t":"Serratia.marcescens.3","s":"nematode 5","v":2.05},{"t":"Serratia.marcescens.3","s":"ant 6","v":6.5},{"t":"Serratia.marcescens.3","s":"nematode 6","v":6.05},{"t":"Serratia.marcescens.3","s":"waxworm 9","v":5.4},
{"t":"Serratia.marcescens.2","s":"ant 1","v":2.95},{"t":"Serratia.marcescens.2","s":"nematode 1","v":1.8},{"t":"Serratia.marcescens.2","s":"ant 2","v":6.1},{"t":"Serratia.marcescens.2","s":"nematode 2","v":6.4},{"t":"Serratia.marcescens.2","s":"ant 3","v":6.2},{"t":"Serratia.marcescens.2","s":"ant 4","v":3.85},{"t":"Serratia.marcescens.2","s":"ant 5","v":6.6},{"t":"Serratia.marcescens.2","s":"waxworm 5","v":3.5},{"t":"Serratia.marcescens.2","s":"ant 6","v":6.6},{"t":"Serratia.marcescens.2","s":"nematode 6","v":6.85},{"t":"Serratia.marcescens.2","s":"waxworm 7","v":3.25},{"t":"Serratia.marcescens.2","s":"waxworm 9","v":5.4},
{"t":"Serratia.marcescens.1","s":"ant 1","v":3.6},{"t":"Serratia.marcescens.1","s":"waxworm 1","v":3.3},{"t":"Serratia.marcescens.1","s":"ant 2","v":6.6},{"t":"Serratia.marcescens.1","s":"nematode 2","v":7.0},{"t":"Serratia.marcescens.1","s":"ant 3","v":6.2},{"t":"Serratia.marcescens.1","s":"ant 4","v":2.7},{"t":"Serratia.marcescens.1","s":"ant 5","v":6.85},{"t":"Serratia.marcescens.1","s":"nematode 5","v":2.95},{"t":"Serratia.marcescens.1","s":"ant 6","v":6.85},{"t":"Serratia.marcescens.1","s":"nematode 6","v":6.9},{"t":"Serratia.marcescens.1","s":"waxworm 9","v":5.6},
{"t":"Serratia.marcescens","s":"nematode 1","v":2.7},{"t":"Serratia.marcescens","s":"ant 2","v":6.8},{"t":"Serratia.marcescens","s":"nematode 2","v":7.05},{"t":"Serratia.marcescens","s":"waxworm 2","v":3.1},{"t":"Serratia.marcescens","s":"ant 3","v":6.85},{"t":"Serratia.marcescens","s":"nematode 3","v":2.35},{"t":"Serratia.marcescens","s":"waxworm 3","v":2.95},{"t":"Serratia.marcescens","s":"nematode 4","v":3.25},{"t":"Serratia.marcescens","s":"waxworm 4","v":3.6},{"t":"Serratia.marcescens","s":"ant 5","v":7.05},{"t":"Serratia.marcescens","s":"ant 6","v":7.05},{"t":"Serratia.marcescens","s":"nematode 6","v":7.2},{"t":"Serratia.marcescens","s":"waxworm 6","v":2.7},{"t":"Serratia.marcescens","s":"waxworm 7","v":2.7},{"t":"Serratia.marcescens","s":"waxworm 8","v":2.95},{"t":"Serratia.marcescens","s":"waxworm 9","v":5.75},
{"t":"Spiroplasma.1","s":"nematode 1","v":7.6},{"t":"Spiroplasma.1","s":"nematode 3","v":7.6},{"t":"Spiroplasma.1","s":"nematode 4","v":7.3},{"t":"Spiroplasma.1","s":"nematode 5","v":7.25},{"t":"Spiroplasma.1","s":"ant 6","v":1.4},{"t":"Spiroplasma.1","s":"waxworm 6","v":6.6},
{"t":"Spiroplasma","s":"ant 1","v":2.95},{"t":"Spiroplasma","s":"nematode 1","v":7.9},{"t":"Spiroplasma","s":"waxworm 1","v":2.95},{"t":"Spiroplasma","s":"ant 2","v":2.2},{"t":"Spiroplasma","s":"nematode 2","v":2.7},{"t":"Spiroplasma","s":"waxworm 2","v":2.85},{"t":"Spiroplasma","s":"ant 3","v":3.25},{"t":"Spiroplasma","s":"nematode 3","v":7.9},{"t":"Spiroplasma","s":"waxworm 3","v":2.7},{"t":"Spiroplasma","s":"ant 4","v":2.7},{"t":"Spiroplasma","s":"nematode 4","v":7.6},{"t":"Spiroplasma","s":"waxworm 4","v":2.7},{"t":"Spiroplasma","s":"ant 5","v":2.7},{"t":"Spiroplasma","s":"nematode 5","v":7.5},{"t":"Spiroplasma","s":"waxworm 5","v":2.7},{"t":"Spiroplasma","s":"ant 6","v":1.4},{"t":"Spiroplasma","s":"nematode 6","v":2.5},{"t":"Spiroplasma","s":"waxworm 6","v":6.6},{"t":"Spiroplasma","s":"waxworm 7","v":2.95},{"t":"Spiroplasma","s":"waxworm 8","v":2.95},{"t":"Spiroplasma","s":"waxworm 9","v":2.05}
]},
"transform": [{"lookup": "s", "from": {"data": {"name": "samples"}, "key": "s", "fields": ["g"]}}],
"facet": {"column": {"field": "g", "type": "nominal", "sort": ["1−COA","2−OFR","3−SP","lab"],
  "header": {"title": null, "labelOrient": "bottom", "labelFontSize": 11, "labelColor": "#1a1a1a", "labelPadding": 6, "labelFont": "Liberation Sans"}}},
"spacing": 12,
"resolve": {"scale": {"x": "independent"}},
"spec": {
  "width": {"step": 26.1},
  "height": {"step": 10.43},
  "layer": [
    {"mark": {"type": "rect", "opacity": 0},
     "encoding": {
       "x": {"field": "s", "type": "nominal", "sort": ["ant 1","nematode 1","waxworm 1","ant 2","nematode 2","waxworm 2","ant 3","nematode 3","waxworm 3","ant 4","nematode 4","waxworm 4","ant 5","nematode 5","waxworm 5","ant 6","nematode 6","waxworm 6","waxworm 7","waxworm 8","waxworm 9"],
             "axis": {"orient": "bottom", "bandPosition": 0, "grid": true, "labels": false, "ticks": false, "domain": false, "title": null}},
       "y": {"field": "t", "type": "nominal", "scale": {"domain": ["Serratia.1","Pseudomonas.14","Myroides","Elizabethkingia.2","Elizabethkingia.ursingii","Pedobacter.11","Pedobacter.10","Pedobacter.9","Pedobacter.8","Pedobacter.7","Pedobacter.6","Enterococcus.8","Acinetobacter","Pseudomonas.tolaasii","Acinetobacter.junii","Enterococcus.casseliflavus.1","Enterococcus.7","Chryseobacterium.1","Pseudomonas.fluorescens","Enterococcus.6","Enterococcus.5","Enterococcus.casseliflavus","Enterococcus.4","Enterococcus.3","Chryseobacterium","Pseudomonas.13","Duganella","Enterococcus.2","Elizabethkingia.1","Comamonas","Pseudomonas.12","Serratia","Sphingobacterium.2","Proteus","Pedobacter.5","Cutibacterium","Sphingobacterium.1","Corynebacteriales.6","Pseudomonas.11","Corynebacteriales.5","Serratia.liquefaciens","Pseudomonas.putida","Pedobacter.4","Pseudomonas.10","Flavobacterium.3","Elizabethkingia","Corynebacteriales.4","Cutibacterium.acnes","Spiroplasma.2","Janthinobacterium.1","Herbaspirillum.autotrophicum","Sphingobacterium.cladoniae","Flavobacterium.2","Nocardiaceae.1","Corynebacteriales.3","Corynebacteriales.2","Corynebacteriales.1","Nubsella.1","Sphingobacterium","Nocardiaceae","Janthinobacterium","Herbaspirillum","Nubsella","Delftia.acidovorans.1","Corynebacteriales","Delftia.acidovorans","Enterococcus.1","Pedobacter.3","Pseudomonas.9","Enterococcus","Pseudomonas.8","Pseudomonas.7","Alcaligenes.faecalis","Pseudomonas.6","Pedobacter.2","Pseudomonas.5","Pseudomonas.4","Cellvibrio.1","Flavobacterium.1","Pedobacter.1","Alcaligenes","Flavobacterium","Cellvibrio","Pedobacter","Pseudomonas.3","Pandoraea.1","Pseudomonas.2","Pseudomonas.1","Pandoraea","Pseudomonas","Entomoplasma.1","Serratia.marcescens.5","Serratia.marcescens.4","Entomoplasma","Serratia.marcescens.3","Serratia.marcescens.2","Serratia.marcescens.1","Serratia.marcescens","Spiroplasma.1","Spiroplasma"]},
             "axis": {"orient": "left", "bandPosition": 0, "grid": true, "labels": false, "ticks": false, "domain": false, "title": null}}
     }},
    {"mark": {"type": "rect"},
     "encoding": {
       "x": {"field": "s", "type": "nominal", "sort": ["ant 1","nematode 1","waxworm 1","ant 2","nematode 2","waxworm 2","ant 3","nematode 3","waxworm 3","ant 4","nematode 4","waxworm 4","ant 5","nematode 5","waxworm 5","ant 6","nematode 6","waxworm 6","waxworm 7","waxworm 8","waxworm 9"],
             "axis": {"orient": "bottom", "grid": false, "title": null, "domain": false, "labelAngle": -90, "labelAlign": "left", "labelBaseline": "middle", "labelFontSize": 9, "labelColor": "#4d4d4d", "labelFont": "Liberation Sans", "tickColor": "black", "tickWidth": 3, "tickSize": 4, "labelPadding": 48}},
       "y": {"field": "t", "type": "nominal",
             "axis": {"orient": "left", "grid": false, "domain": false, "title": "Top 100 Taxa", "titleFontSize": 14, "titleFontWeight": "normal", "titleColor": "black", "titleFont": "Liberation Sans", "titlePadding": -1, "labelFontSize": 10, "labelColor": "#4d4d4d", "labelFont": "Liberation Sans", "tickColor": "#bbbbbb", "tickSize": 2, "labelPadding": 1}},
       "color": {"field": "v", "type": "quantitative", "title": "Log relative abundance",
             "scale": {"domain": [0,0.6,1.1,1.4,1.8,2.2,2.7,3.1,3.5,3.85,4.15,4.5,4.9,5.4,5.9,6.4,6.7,7.0,7.3,7.6,7.9],
                       "range": ["#ffffff","#e6a0fa","#cc44ee","#cc00ff","#9900ee","#6600ee","#2200ff","#5050ff","#6688ff","#77bbff","#88eeff","#88ffcc","#88ff88","#88ff33","#bbff33","#eeff33","#f0e830","#e8b830","#d88820","#d05020","#c82020"],
                       "interpolate": "rgb"},
             "legend": {"orient": "none", "legendX": 183, "legendY": 1147, "direction": "horizontal", "titleOrient": "left", "gradientLength": 105, "gradientThickness": 21, "gradientStrokeWidth": 0, "values": [0,2,4,6], "labelFontSize": 10.5, "labelColor": "#4d4d4d", "labelFont": "Liberation Sans", "labelOffset": 6, "titleFontSize": 13, "titleFontWeight": "normal", "titleColor": "black", "titleFont": "Liberation Sans", "titlePadding": 7, "titleAnchor": "middle", "titleBaseline": "top"}}
     }},
    {"mark": {"type": "rect", "opacity": 0},
     "encoding": {
       "x": {"field": "s", "type": "nominal", "sort": ["ant 1","nematode 1","waxworm 1","ant 2","nematode 2","waxworm 2","ant 3","nematode 3","waxworm 3","ant 4","nematode 4","waxworm 4","ant 5","nematode 5","waxworm 5","ant 6","nematode 6","waxworm 6","waxworm 7","waxworm 8","waxworm 9"],
             "axis": {"orient": "bottom", "offset": 53, "grid": false, "labels": false, "ticks": false, "domain": true, "domainColor": "#333333", "domainWidth": 1, "title": null}},
       "y": {"field": "t", "type": "nominal", "axis": null}
     }}
  ],
  "resolve": {"axis": {"x": "independent", "y": "independent"}}
},
"config": {
  "font": "Liberation Sans",
  "view": {"stroke": "#e3e3e3", "strokeWidth": 1},
  "axis": {"gridColor": "#e3e3e3", "gridWidth": 1}
}
}
